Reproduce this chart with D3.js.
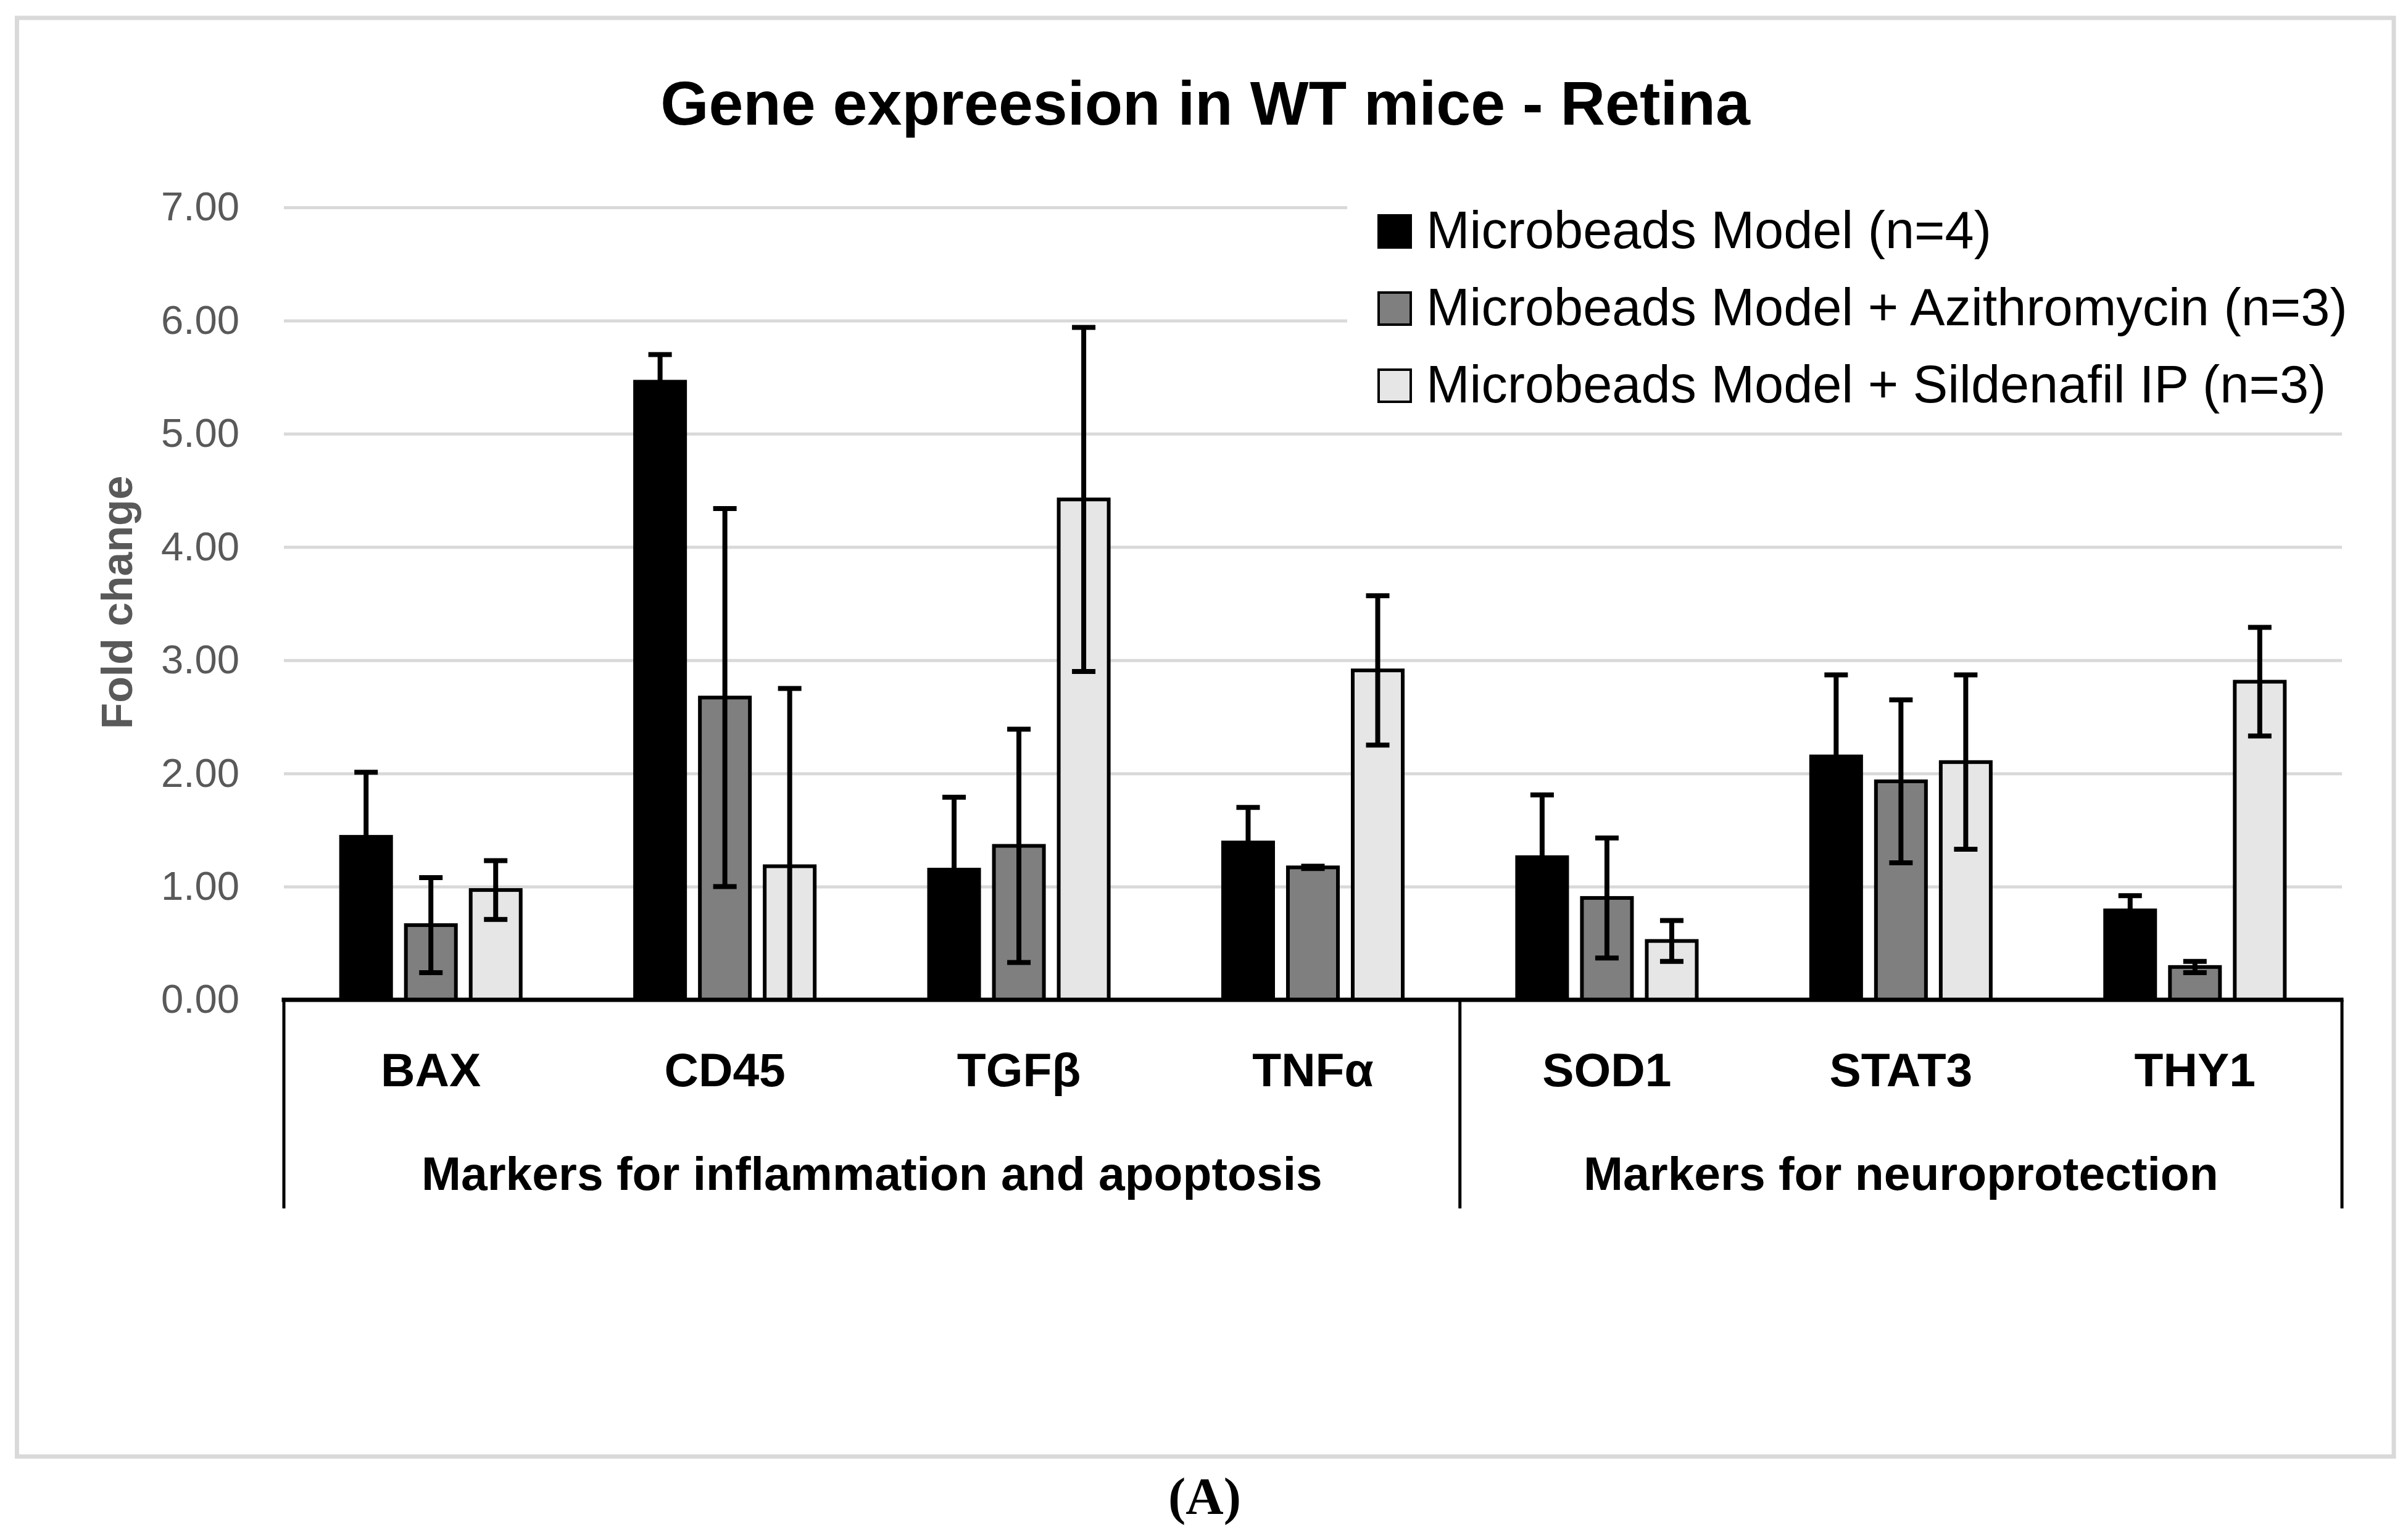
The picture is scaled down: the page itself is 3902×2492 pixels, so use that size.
<!DOCTYPE html>
<html>
<head>
<meta charset="utf-8">
<script src="https://cdn.jsdelivr.net/npm/d3@7/dist/d3.min.js"></script>
<style>
	body { margin: 0; background: #fff; }
</style>
</head>
<body>
<script>
// categories, groups and series
var categories = ["BAX", "CD45", "TGFβ", "TNFα", "SOD1", "STAT3", "THY1"];
var groupLabels = ["Markers for inflammation and apoptosis", "Markers for neuroprotection"];
var groupSizes = [4, 3];
var seriesNames = ["Microbeads Model (n=4)",
	"Microbeads Model + Azithromycin (n=3)",
	"Microbeads Model + Sildenafil IP (n=3)"];

// mean fold change and error per series
var microbeads = [1.44, 5.46, 1.15, 1.39, 1.26, 2.15, 0.79];
var microbeadsErr = [0.57, 0.24, 0.64, 0.31, 0.55, 0.72, 0.13];
var azithro = [0.66, 2.67, 1.36, 1.17, 0.90, 1.93, 0.29];
var azithroErr = [0.42, 1.67, 1.03, 0.01, 0.53, 0.72, 0.05];
var sildenafil = [0.97, 1.18, 4.42, 2.91, 0.52, 2.10, 2.81];
var sildenafilErr = [0.26, 1.57, 1.52, 0.66, 0.18, 0.77, 0.48];

var yTicks = [0, 1, 2, 3, 4, 5, 6, 7];

var seriesValues = [microbeads, azithro, sildenafil];
var seriesErrors = [microbeadsErr, azithroErr, sildenafilErr];
var seriesColors = ["#000000", "#7f7f7f", "#e6e6e6"];

var width = 3902, height = 2492;
var sansFont = "'Liberation Sans', Arial, sans-serif";

// scale the font so the text is as wide as in the picture
function fitWidth(sel, target) {
	var w = sel.node().getComputedTextLength();
	var fs = parseFloat(sel.attr("font-size"));
	sel.attr("font-size", fs * target / w);
	return fs * target / w;
}

var svg = d3.select("body").append("svg")
	.attr("width", width)
	.attr("height", height)
	.attr("font-family", sansFont);

svg.append("rect")
	.attr("width", width).attr("height", height)
	.attr("fill", "#fff");

// outer frame
svg.append("rect")
	.attr("x", 27.5).attr("y", 29)
	.attr("width", 3851.5).attr("height", 2331)
	.attr("fill", "none")
	.attr("stroke", "#d9d9d9")
	.attr("stroke-width", 7);

// title
var title = svg.append("text")
	.attr("x", 1953).attr("y", 202)
	.attr("text-anchor", "middle")
	.attr("font-weight", "bold")
	.attr("font-size", 100)
	.text("Gene expreesion in WT mice - Retina");
fitWidth(title, 1766);

var plotLeft = 460, plotRight = 3795;

var x0 = d3.scaleBand()
	.domain(categories)
	.range([plotLeft, plotRight]);

var x1 = d3.scaleBand()
	.domain(d3.range(seriesNames.length))
	.range([0, x0.bandwidth()])
	.paddingInner(0.1714)
	.paddingOuter(0.854);

var y = d3.scaleLinear()
	.domain([0, 7])
	.range([1620, 336]);

// value axis with gridlines
var yAxis = svg.append("g")
	.attr("transform", "translate(" + plotLeft + ",0)")
	.call(d3.axisLeft(y)
		.tickValues(yTicks)
		.tickSize(-(plotRight - plotLeft))
		.tickPadding(72)
		.tickFormat(d3.format(".2f")));
yAxis.attr("font-family", sansFont);
yAxis.select(".domain").remove();
yAxis.selectAll("line")
	.attr("stroke", "#d9d9d9")
	.attr("stroke-width", 5);
yAxis.selectAll("text")
	.attr("fill", "#595959")
	.attr("font-size", 65);
var tickFs = fitWidth(yAxis.select(".tick:last-of-type text"), 127);
yAxis.selectAll("text").attr("font-size", tickFs);

// axis title
var yTitle = svg.append("text")
	.attr("transform", "translate(214,976) rotate(-90)")
	.attr("text-anchor", "middle")
	.attr("font-weight", "bold")
	.attr("fill", "#595959")
	.attr("font-size", 60)
	.text("Fold change");
fitWidth(yTitle, 411);

// legend background hides the gridlines behind it
svg.append("rect")
	.attr("x", 2183).attr("y", 300)
	.attr("width", plotRight - 2183).attr("height", 390)
	.attr("fill", "#fff");

// bars
var sw = 6;
var series = svg.selectAll(".series")
	.data(seriesValues)
	.enter().append("g")
	.attr("class", "series");

series.selectAll("rect")
	.data(function(d, i) {
		return d.map(function(v, j) { return { s: i, cat: categories[j], v: v }; });
	})
	.enter().append("rect")
	.attr("x", function(d) { return x0(d.cat) + x1(d.s) + sw / 2; })
	.attr("width", x1.bandwidth() - sw)
	.attr("y", function(d) { return y(d.v); })
	.attr("height", function(d) { return y(0) - y(d.v); })
	.attr("fill", function(d) { return seriesColors[d.s]; })
	.attr("stroke", "#000")
	.attr("stroke-width", sw);

// error bars, cut at the axis like the original
var capW = 38;
var errData = [];
seriesValues.forEach(function(vals, i) {
	vals.forEach(function(v, j) {
		var lo = v - seriesErrors[i][j];
		errData.push({
			cx: x0(categories[j]) + x1(i) + x1.bandwidth() / 2,
			lo: Math.max(0, lo),
			loCap: lo >= 0,
			hi: v + seriesErrors[i][j]
		});
	});
});

var err = svg.selectAll(".err")
	.data(errData)
	.enter().append("g")
	.attr("class", "err")
	.attr("stroke", "#000")
	.attr("stroke-width", 8);
err.append("line")
	.attr("x1", function(d) { return d.cx; })
	.attr("x2", function(d) { return d.cx; })
	.attr("y1", function(d) { return y(d.lo); })
	.attr("y2", function(d) { return y(d.hi); });
err.append("line")
	.attr("x1", function(d) { return d.cx - capW / 2; })
	.attr("x2", function(d) { return d.cx + capW / 2; })
	.attr("y1", function(d) { return y(d.hi); })
	.attr("y2", function(d) { return y(d.hi); });
err.filter(function(d) { return d.loCap; })
	.append("line")
	.attr("x1", function(d) { return d.cx - capW / 2; })
	.attr("x2", function(d) { return d.cx + capW / 2; })
	.attr("y1", function(d) { return y(d.lo); })
	.attr("y2", function(d) { return y(d.lo); });

// category axis with two levels
svg.append("line")
	.attr("x1", plotLeft - 3.5).attr("x2", plotRight + 2.5)
	.attr("y1", y(0)).attr("y2", y(0))
	.attr("stroke", "#000")
	.attr("stroke-width", 7);

var bounds = [0];
groupSizes.forEach(function(n, i) { bounds.push(bounds[i] + n); });
var boundX = bounds.map(function(b) {
	return b < categories.length ? x0(categories[b]) : plotRight;
});

svg.selectAll(".divider")
	.data(boundX)
	.enter().append("line")
	.attr("class", "divider")
	.attr("x1", function(d) { return d; })
	.attr("x2", function(d) { return d; })
	.attr("y1", y(0))
	.attr("y2", 1958)
	.attr("stroke", "#000")
	.attr("stroke-width", 5);

var catLabels = svg.selectAll(".cat")
	.data(categories)
	.enter().append("text")
	.attr("class", "cat")
	.attr("x", function(d) { return x0(d) + x0.bandwidth() / 2; })
	.attr("y", 1760)
	.attr("text-anchor", "middle")
	.attr("font-weight", "bold")
	.attr("font-size", 80)
	.text(function(d) { return d; });

var groupText = svg.selectAll(".grp")
	.data(groupLabels)
	.enter().append("text")
	.attr("class", "grp")
	.attr("x", function(d, i) { return (boundX[i] + boundX[i + 1]) / 2; })
	.attr("y", 1928)
	.attr("text-anchor", "middle")
	.attr("font-weight", "bold")
	.attr("font-size", 80)
	.text(function(d) { return d; });
var labelFs = fitWidth(groupText.filter(function(d, i) { return i == 0; }), 1460);
groupText.attr("font-size", labelFs);
catLabels.attr("font-size", labelFs);

// legend
var legend = svg.selectAll(".legend")
	.data(seriesNames)
	.enter().append("g")
	.attr("class", "legend")
	.attr("transform", function(d, i) { return "translate(2232," + (347 + 125 * i) + ")"; });
legend.append("rect")
	.attr("x", 2).attr("y", 2)
	.attr("width", 52).attr("height", 52)
	.attr("fill", function(d, i) { return seriesColors[i]; })
	.attr("stroke", "#000")
	.attr("stroke-width", 4);
var legText = legend.append("text")
	.attr("x", 79).attr("y", 55)
	.attr("font-size", 80)
	.text(function(d) { return d; });
var legFs = fitWidth(legText.filter(function(d, i) { return i == 1; }), 1493);
legText.attr("font-size", legFs);

// panel letter
svg.append("text")
	.attr("x", 1952).attr("y", 2453)
	.attr("text-anchor", "middle")
	.attr("font-family", "'Liberation Serif', 'Times New Roman', serif")
	.attr("font-weight", "bold")
	.attr("font-size", 85)
	.text("(A)");
</script>
</body>
</html>
